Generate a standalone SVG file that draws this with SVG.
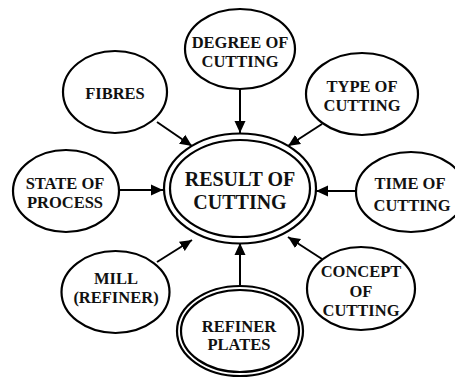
<svg xmlns="http://www.w3.org/2000/svg" width="455" height="378" viewBox="0 0 455 378">
<defs>
<marker id="ah" markerUnits="userSpaceOnUse" markerWidth="12" markerHeight="12" viewBox="0 0 12 12" refX="12" refY="6" orient="auto">
<path d="M0,0.5 L12,6 L0,11.5 Z" fill="#000"/>
</marker>
</defs>
<style>
.n{fill:#fff;stroke:#000;stroke-width:2.2}
text{font-family:'Times New Roman','Liberation Serif',serif;font-weight:bold;font-size:16.5px;text-anchor:middle;fill:#111}
.big{font-size:20px}
.c line{stroke:#000;stroke-width:2;marker-end:url(#ah)}
</style>
<rect width="455" height="378" fill="#fff"/>
<g class="c" id="connectors">
<line x1="240" y1="89" x2="240" y2="133"/>
<line x1="157" y1="122" x2="192" y2="146"/>
<line x1="322" y1="124" x2="288" y2="146"/>
<line x1="356" y1="191" x2="316" y2="191"/>
<line x1="119" y1="190" x2="163" y2="190"/>
<line x1="157" y1="262" x2="192" y2="240"/>
<line x1="322" y1="259" x2="288" y2="237"/>
<line x1="240" y1="286" x2="240" y2="243"/>
</g>
<g id="result">
<ellipse class="n" cx="240" cy="188.5" rx="76" ry="55"/>
<ellipse class="n" cx="240" cy="188.5" rx="70" ry="48.5"/>
<text class="big" x="240" y="186">RESULT OF</text>
<text class="big" x="240" y="209">CUTTING</text>
</g>
<g id="degree">
<ellipse class="n" cx="240" cy="49" rx="55" ry="40"/>
<text x="240" y="48">DEGREE OF</text>
<text x="240" y="67">CUTTING</text>
</g>
<g id="fibres">
<ellipse class="n" cx="115" cy="92" rx="52" ry="41"/>
<text x="115" y="99">FIBRES</text>
</g>
<g id="type">
<ellipse class="n" cx="362" cy="94" rx="56" ry="41"/>
<text x="362" y="92">TYPE OF</text>
<text x="362" y="111">CUTTING</text>
</g>
<g id="time">
<ellipse class="n" cx="411" cy="192" rx="55" ry="40"/>
<text x="410" y="189">TIME OF</text>
<text x="412" y="211">CUTTING</text>
</g>
<g id="state">
<ellipse class="n" cx="66" cy="191" rx="53" ry="41"/>
<text x="65" y="189">STATE OF</text>
<text x="65" y="208">PROCESS</text>
</g>
<g id="mill">
<ellipse class="n" cx="115.5" cy="292" rx="54" ry="41"/>
<text x="116" y="284">MILL</text>
<text x="116" y="303">(REFINER)</text>
</g>
<g id="concept">
<ellipse class="n" cx="361" cy="288.5" rx="54" ry="41.5"/>
<text x="361" y="277">CONCEPT</text>
<text x="361" y="297">OF</text>
<text x="361" y="316">CUTTING</text>
</g>
<g id="plates">
<ellipse class="n" cx="240" cy="331" rx="63" ry="45"/>
<ellipse class="n" cx="240" cy="331" rx="59" ry="41"/>
<text x="239" y="332">REFINER</text>
<text x="239" y="350">PLATES</text>
</g>
</svg>
